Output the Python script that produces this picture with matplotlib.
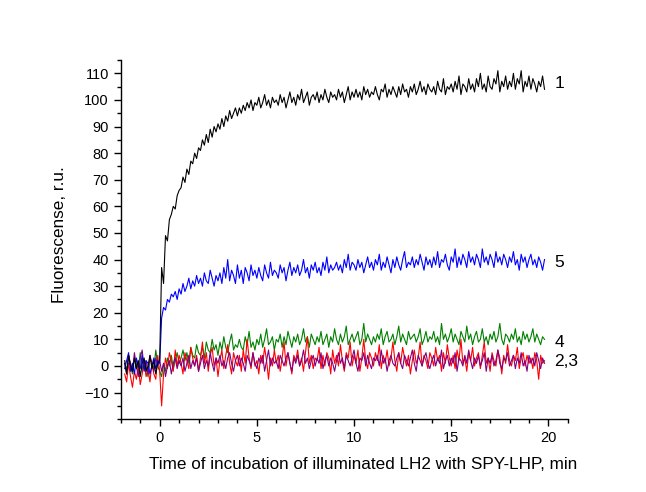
import numpy as np
import matplotlib
matplotlib.use("Agg")
import matplotlib.pyplot as plt
from matplotlib.ticker import MultipleLocator

plt.rcParams['font.family'] = ['Liberation Sans', 'DejaVu Sans']

# time grid (min): -1.8 ... 19.8, step 0.1
t_start, t_step, n_pts = -1.8, 0.1, 217
time = np.round(t_start + t_step * np.arange(n_pts), 2)

curve1 = [  # black
    1, -3, 4, 0, -2, 3, -1, 2, -4, 1, 3, -2, 0, 4, -1, 2, -3, 1,
    2,
    37, 31, 49, 47, 55, 57, 60, 59, 64, 66,
    67, 71, 69, 74, 72, 77, 76, 80, 78, 82,
    81, 85, 83, 87, 84, 89, 86, 90, 88, 91,
    89, 93, 90, 94, 92, 96, 93, 95, 97, 94,
    97, 95, 98, 96, 99, 97, 100, 96, 99, 98,
    101, 97, 99, 102, 98, 100, 97, 101, 99, 100,
    98, 102, 99, 101, 97, 100, 103, 99, 101, 98,
    102, 100, 104, 99, 101, 103, 98, 101, 102, 100,
    103, 99, 102, 100, 104, 101, 99, 103, 101, 102,
    100, 104, 101, 103, 99, 102, 105, 100, 103, 101,
    104, 101, 103, 100, 105, 102, 104, 101, 103, 102,
    105, 102, 100, 104, 103, 106, 101, 104, 102, 105,
    103, 101, 105, 102, 106, 103, 104, 101, 105, 103,
    106, 102, 104, 107, 103, 105, 102, 106, 104, 103,
    105, 102, 107, 104, 103, 108, 102, 105, 104, 106,
    103, 107, 104, 109, 102, 106, 105, 103, 108, 104,
    106, 103, 108, 105, 110, 104, 106, 103, 109, 105,
    104, 108, 106, 111, 103, 107, 105, 109, 104, 107,
    105, 110, 104, 108, 106, 111, 103, 107, 105, 109,
    104, 108, 106, 103, 107, 105, 109, 104,
]

curve5 = [  # blue
    -1, 2, 5, -2, 1, -3, 3, 0, -1, 4, -2, 2, 1, -3, 0, 3, -1, 2,
    1,
    18, 22, 21, 25, 24, 27, 26, 28, 25, 29,
    27, 31, 28, 30, 33, 29, 32, 30, 34, 31,
    33, 30, 35, 32, 31, 36, 33, 30, 34, 32,
    35, 31, 37, 33, 40, 32, 36, 34, 31, 38,
    33, 36, 31, 37, 35, 32, 38, 34, 36, 33,
    37, 34, 32, 38, 35, 33, 39, 34, 36, 35,
    33, 38, 35, 37, 32, 36, 39, 34, 37, 35,
    38, 34, 36, 40, 35, 37, 33, 38, 36, 39,
    35, 37, 34, 39, 36, 41, 35, 38, 36, 37,
    39, 36, 38, 35, 40, 37, 42, 36, 39, 38,
    36, 40, 37, 39, 35, 38, 41, 37, 39, 36,
    40, 38, 42, 36, 39, 37, 41, 38, 35, 40,
    37, 41, 38, 36, 40, 43, 37, 39, 38, 41,
    37, 40, 38, 42, 39, 36, 41, 38, 40, 37,
    41, 38, 43, 37, 40, 39, 42, 38, 36, 41,
    39, 44, 37, 41, 38, 42, 40, 37, 43, 39,
    41, 38, 42, 40, 37, 44, 39, 41, 38, 42,
    40, 37, 43, 39, 41, 38, 42, 40, 37, 41,
    39, 43, 38, 40, 36, 42, 39, 41, 37, 40,
    42, 38, 40, 37, 41, 39, 36, 40,
]

curve4 = [  # green
    2, -2, 4, 0, -3, 3, 1, -1, 5, -2, 2, 0, -4, 3, 1, -1, 6, 0,
    -2,
    -4, 1, -2, 3, 0, 4, -1, 2, 5, 1,
    3, 6, 2, 5, 1, 7, 4, 3, 8, 5,
    4, 7, 3, 9, 6, 5, 10, 6, 8, 4,
    9, 6, 11, 7, 5, 9, 12, 6, 8, 7,
    10, 7, 6, 11, 8, 13, 7, 9, 6, 10,
    8, 12, 7, 10, 14, 8, 9, 11, 6, 10,
    9, 12, 7, 11, 8, 13, 10, 7, 11, 9,
    12, 8, 10, 14, 9, 11, 7, 12, 10, 8,
    11, 9, 13, 8, 10, 12, 7, 11, 9, 14,
    10, 8, 12, 9, 11, 15, 8, 10, 12, 9,
    11, 13, 8, 10, 16, 9, 12, 10, 8, 11,
    9, 12, 10, 14, 8, 11, 13, 9, 10, 12,
    8, 11, 15, 9, 12, 10, 8, 13, 10, 11,
    12, 9, 11, 14, 8, 10, 13, 9, 11, 10,
    13, 9, 11, 8, 16, 10, 12, 9, 11, 14,
    9, 12, 10, 8, 13, 11, 9, 15, 10, 12,
    8, 11, 13, 9, 10, 14, 9, 11, 8, 12,
    10, 13, 9, 11, 16, 10, 8, 12, 11, 9,
    12, 10, 14, 9, 11, 8, 13, 10, 12, 9,
    11, 14, 9, 12, 10, 8, 11, 10,
]

curve2 = [  # red
    -3, -6, 1, -4, -8, -2, -5, 0, -7, -3, 2, -4, -1, -6, 1, -3, -5, 4,
    -2,
    -15, -3, 3, -1, 5, 2, -2, 6, 0, 4,
    1, -3, 5, 2, -1, 7, 3, 0, 4, -2,
    3, 9, 1, 5, -2, 4, 7, 0, 3, -4,
    2, 6, -1, 4, 8, 1, -3, 5, 2, 0,
    4, -2, 6, 1, 10, 3, -1, 5, 0, 2,
    -3, 4, 1, 7, 2, -5, 3, 0, 6, 1,
    4, -2, 3, 9, 0, 5, 1, -3, 4, 2,
    6, 0, 3, -2, 5, 11, 1, 4, -1, 3,
    2, 7, -1, 4, 0, 5, 3, -3, 6, 1,
    4, 0, 8, 2, -2, 5, 3, 9, 0, 4,
    1, 6, -2, 3, 10, 2, -1, 5, 3, 0,
    5, 2, 8, -1, 4, 1, 6, 0, 3, 9,
    2, -2, 5, 1, 7, 3, 0, 4, -3, 2,
    6, 1, 3, 9, 0, 4, 2, -1, 5, 3,
    0, 7, 2, 4, -2, 5, 1, 8, 3, 0,
    4, -1, 6, 2, 10, 1, 3, -2, 5, 2,
    7, 0, 3, 5, -1, 4, 9, 1, 3, -2,
    5, 2, 0, 6, 3, -3, 4, 1, 8, 2,
    0, 4, 2, 7, -1, 3, 5, 0, 4, 1,
    3, -1, 5, 2, -5, 4, 1, 2,
]

curve3 = [  # purple
    2, -3, 4, 1, -2, 5, 0, -4, 3, 6, -1, 2, -3, 4, 1, -2, 3, 0,
    2,
    -2, 1, -4, 0, 2, -3, 1, 3, -1, 2,
    0, 3, -2, 1, 4, -1, 2, 0, 3, -2,
    1, 4, -1, 2, 0, 5, 1, -2, 3, 1,
    4, 0, 2, -1, 3, 5, 1, -2, 2, 4,
    0, 3, 1, -2, 4, 2, 0, 5, 1, -1,
    3, 1, 4, -2, 2, 6, 0, 3, 1, 2,
    -1, 4, 2, 0, 3, 5, 1, -2, 3, 1,
    4, 0, 2, 6, 1, 3, -1, 2, 4, 0,
    3, 1, 5, -1, 2, 4, 0, 3, 1, -2,
    2, 5, 1, 3, -1, 4, 2, 0, 3, 6,
    1, -2, 3, 2, 5, 0, 4, 1, -1, 3,
    2, 4, 0, 6, 1, 3, -2, 2, 4, 1,
    0, 3, 5, 1, -1, 4, 2, 0, 3, 6,
    1, -2, 4, 2, 0, 3, 5, 1, -1, 2,
    4, 0, 3, 1, 6, -1, 2, 4, 0, 3,
    1, 5, -2, 3, 2, 0, 4, 1, 6, 2,
    -1, 3, 1, 4, 0, 2, 5, -2, 3, 1,
    4, 0, 2, 6, 1, -1, 3, 2, 5, 0,
    2, 4, -1, 3, 1, 5, 0, 2, -2, 4,
    1, 3, 0, 5, 2, -1, 3, 1,
]

curve_labels = ["1", "5", "4", "2,3"]
label_y = [106, 39, 9, 1.5]

fig = plt.figure(figsize=(6.46, 4.92), dpi=100)
ax = fig.add_axes([0.187, 0.148, 0.692, 0.730])

lw = 0.8
ax.plot(time, curve4, color="#008000", lw=lw, zorder=2)
ax.plot(time, curve2, color="#ff0000", lw=lw, zorder=3)
ax.plot(time, curve3, color="#800080", lw=lw, zorder=4)
ax.plot(time, curve5, color="#0000ff", lw=lw, zorder=5)
ax.plot(time, curve1, color="#000000", lw=lw, zorder=6)

for lab, yv in zip(curve_labels, label_y):
    ax.text(20.3, yv, lab, fontsize=12.5, va="center", ha="left")

ax.set_xlim(-2, 21)
ax.set_ylim(-20, 115)
ax.xaxis.set_minor_locator(MultipleLocator(1))
ax.yaxis.set_minor_locator(MultipleLocator(5))
ax.set_yticks([-10, 0, 10, 20, 30, 40, 50, 60, 70, 80, 90, 100, 110])
ax.set_xticks([0, 5, 10, 15, 20])
ax.tick_params(which="major", direction="out", length=5, width=1, labelsize=10.5)
ax.tick_params(which="minor", direction="out", length=3, width=1)
for s in ["top", "right"]:
    ax.spines[s].set_visible(False)
for s in ["left", "bottom"]:
    ax.spines[s].set_linewidth(1.0)

ax.set_xlabel("Time of incubation of illuminated LH2 with SPY-LHP, min", fontsize=12.3, labelpad=9, x=0.541)
ax.set_ylabel("Fluorescense, r.u.", fontsize=12.3, labelpad=12, y=0.513)

fig.savefig("out.png", dpi=100, facecolor="white")
